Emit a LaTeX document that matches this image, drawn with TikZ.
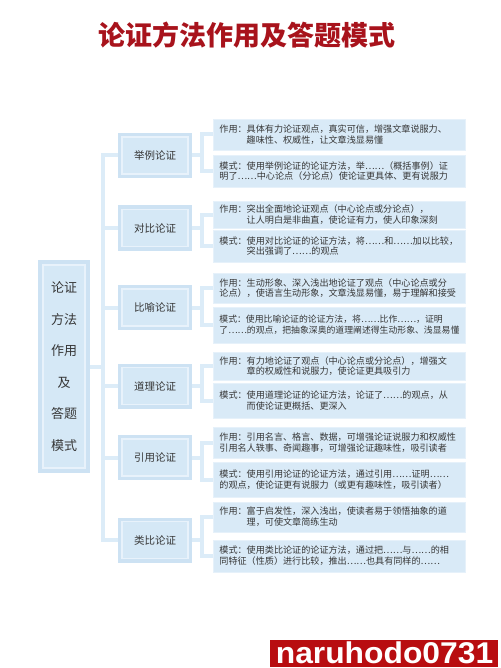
\documentclass[tikz,border=0pt]{standalone}
\usepackage{fontspec}
\newfontfamily\cjk{Noto Sans CJK SC}
\newfontfamily\wmfont{Liberation Sans}
\definecolor{titlered}{HTML}{A8131C}
\definecolor{outerc}{HTML}{CDE2F3}
\definecolor{ringc}{HTML}{E8F2FB}
\definecolor{innerc}{HTML}{D5E8F6}
\definecolor{boxc}{HTML}{D9EAF7}
\definecolor{boxedge}{HTML}{E6F1FA}
\definecolor{connc}{HTML}{DCECF8}
\definecolor{txt}{HTML}{363636}
\definecolor{wmred}{HTML}{B80D10}
\begin{document}
\begin{tikzpicture}[x=1pt,y=-1pt,
  ringed/.style={fill=outerc, draw=none, inner sep=0pt,
    path picture={\draw[draw=ringc, line width=1.6pt, fill=innerc]
      ([shift={(#1,-#1)}]path picture bounding box.north west) rectangle
      ([shift={(-#1,#1)}]path picture bounding box.south east);}},
  rootbox/.style={ringed=5pt, minimum width=52pt, minimum height=213pt, align=center,
    text=txt, font=\cjk\fontsize{13}{31.6}\selectfont},
  catbox/.style={ringed=4pt, minimum width=74pt, minimum height=45pt,
    text=txt, font=\cjk\fontsize{10.5}{12}\selectfont},
  infobox/.style={anchor=west, text width=240pt, inner xsep=6pt, inner ysep=1pt,
    align=left, fill=boxc, draw=boxedge, line width=0.8pt, text=txt,
    font=\cjk\fontsize{9.1}{10.8}\selectfont, minimum height=#1},
  conn/.style={draw=connc, line width=4pt},
  titlestyle/.style={text=titlered, font=\cjk\bfseries\fontsize{27}{30}\selectfont},
  wmbox/.style={fill=wmred, draw=none, minimum width=228pt, minimum height=27pt, inner sep=0pt},
  wmtext/.style={text=white, inner sep=0pt, text height=21pt, text depth=0pt, xscale=1.06,
    font=\wmfont\bfseries\fontsize{30}{30}\selectfont}
]
\useasboundingbox[fill=white] (0,0) rectangle (500,668);

\node[titlestyle] (title) at (247,35) {论证方法作用及答题模式};

\node[rootbox] (root) at (64,366.5) {论证\\方法\\作用\\及\\答题\\模式};

\node[catbox] (c1) at (155,155.5) {举例论证};
\node[catbox] (c2) at (155,228) {对比论证};
\node[catbox] (c3) at (155,307.5) {比喻论证};
\node[catbox] (c4) at (155,386) {道理论证};
\node[catbox] (c5) at (155,457.5) {引用论证};
\node[catbox] (c6) at (155,540) {类比论证};

\node[infobox=31pt] (a1) at (213,134.5) {作用：具体有力论证观点，真实可信，增强文章说服力、\\\hspace*{3em}趣味性、权威性，让文章浅显易懂};
\node[infobox=32pt] (b1) at (213,171) {模式：使用举例论证的论证方法，举……（概括事例）证\\明了……中心论点（分论点）使论证更具体、更有说服力};

\node[infobox=27pt] (a2) at (213,214.5) {作用：突出全面地论证观点（中心论点或分论点），\\\hspace*{3em}让人明白是非曲直，使论证有力，使人印象深刻};
\node[infobox=32pt] (b2) at (213,246) {模式：使用对比论证的论证方法，将……和……加以比较，\\\hspace*{3em}突出强调了……的观点};

\node[infobox=30pt] (a3) at (213,288) {作用：生动形象、深入浅出地论证了观点（中心论点或分\\论点），使语言生动形象，文章浅显易懂，易于理解和接受};
\node[infobox=36pt, font=\cjk\fontsize{8.85}{10.8}\selectfont] (b3) at (213,325) {模式：使用比喻论证的论证方法，将……比作……，证明\\了……的观点，把抽象深奥的道理阐述得生动形象、浅显易懂};

\node[infobox=28pt] (a4) at (213,366) {作用：有力地论证了观点（中心论点或分论点），增强文\\\hspace*{3em}章的权威性和说服力，使论证更具吸引力};
\node[infobox=35pt] (b4) at (213,400.5) {模式：使用道理论证的论证方法，论证了……的观点，从\\\hspace*{3em}而使论证更概括、更深入};

\node[infobox=31pt] (a5) at (213,442.5) {作用：引用名言、格言、数据，可增强论证说服力和权威性\\引用名人轶事、奇闻趣事，可增强论证趣味性，吸引读者};
\node[infobox=35pt] (b5) at (213,479.5) {模式：使用引用论证的论证方法，通过引用……证明……\\的观点，使论证更有说服力（或更有趣味性，吸引读者）};

\node[infobox=30pt] (a6) at (213,517) {作用：富于启发性，深入浅出，使读者易于领悟抽象的道\\\hspace*{3em}理，可使文章简练生动};
\node[infobox=32pt] (b6) at (213,556) {模式：使用类比论证的论证方法，通过把……与……的相\\同特征（性质）进行比较，推出……也具有同样的……};

% trunk
\draw[conn] (root.east) -- ++(13,0) coordinate (t);
\foreach \i in {1,...,6} {
  \draw[conn] (c\i.west) -| (t);
  \draw[conn] (c\i.east) -- ++(10,0) coordinate (j\i);
  \draw[conn] (a\i.west) -| (j\i);
  \draw[conn] (b\i.west) -| (j\i);
}

\node[wmbox] (wm) at (384,653.5) {};
\node[wmtext] (wmt) at (384.5,652.5) {naruhodo0731};
\end{tikzpicture}
\end{document}
